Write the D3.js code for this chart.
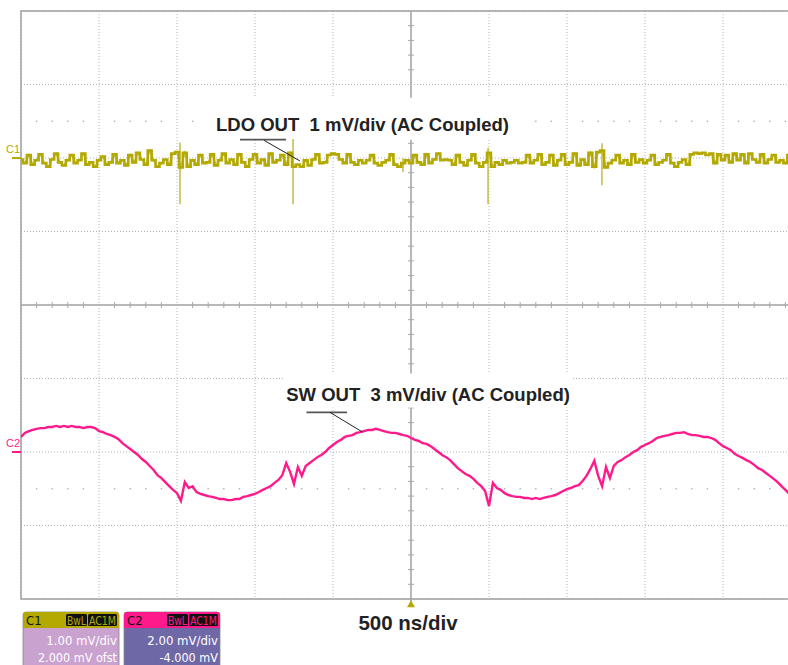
<!DOCTYPE html>
<html>
<head>
<meta charset="utf-8">
<script src="https://cdn.jsdelivr.net/npm/d3@7"></script>
<style>
  body { margin: 0; background: #fff; }
  svg { display: block; }
</style>
</head>
<body>
<div id="scope"></div>
<script>
// sample interval of both captured traces
const sampleNs = 25;

// C1: LDO output ripple, mV (1 mV/div)
const ldoOut = [
  -0.02, -0.07, 0.04, -0.09, -0.03, 0.05, -0.07, -0.12, -0.02, 0.06, -0.06, -0.10, -0.03, 0.04, -0.07, -0.03, 0.06, -0.09, -0.06, -0.12,
  -0.03, 0.02, -0.09, -0.06, 0.05, -0.07, -0.03, -0.10, 0.04, -0.06, 0.07, -0.02, -0.09, 0.10, -0.03, -0.12, -0.07, -0.02, -0.09, 0.06,
  0.08, -0.13, 0.07, -0.12, -0.03, -0.09, 0.04, -0.07, -0.06, 0.05, -0.10, -0.03, 0.06, -0.07, -0.02, -0.09, 0.05, -0.06, -0.12, -0.02,
  0.05, -0.07, -0.02, -0.10, 0.06, -0.06, -0.03, 0.04, -0.09, 0.07, -0.12, -0.09, -0.12, -0.03, -0.10, -0.02, 0.05, -0.07, -0.06, 0.04,
  0.06, 0.05, -0.02, -0.07, 0.05, -0.06, -0.09, -0.03, -0.07, -0.03, 0.04, -0.07, -0.10, -0.06, -0.03, 0.05, -0.09, -0.12, -0.07, -0.03,
  -0.07, 0.04, -0.06, -0.09, 0.05, -0.07, -0.02, 0.06, -0.03, -0.02, -0.03, -0.09, 0.04, -0.06, -0.10, -0.03, 0.05, -0.07, -0.12, -0.06,
  0.07, -0.12, -0.06, -0.09, -0.03, -0.07, -0.06, -0.03, -0.07, -0.06, 0.04, -0.07, -0.03, 0.05, -0.09, -0.06, 0.04, -0.10, -0.03, 0.05,
  -0.09, -0.06, 0.06, -0.10, -0.02, -0.09, 0.07, -0.12, 0.08, 0.10, -0.13, -0.07, -0.03, 0.04, -0.07, -0.03, -0.09, 0.05, -0.06, -0.02,
  -0.07, -0.03, 0.04, -0.09, -0.06, -0.03, 0.05, -0.07, -0.12, -0.06, -0.02, -0.09, 0.05, 0.07, 0.06, 0.07, 0.04, 0.06, -0.07, 0.05,
  -0.03, 0.04, -0.06, 0.06, -0.03, 0.05, -0.07, 0.06, -0.02, -0.06, 0.05, -0.07, -0.02, 0.04, -0.06, -0.03, -0.07, 0.04, -0.06, -0.03
];

// C1 switching glitches (ns, peak high / low in mV)
const ldoSpikeTimes = [1019, 1744, 2449, 2994, 3724];
const ldoSpikeHigh = [0.21, 0.26, 0.00, 0.14, 0.20];
const ldoSpikeLow = [-0.63, -0.63, -0.19, -0.63, -0.37];

// C2: switcher output ripple, mV (2 mV/div)
const swOut = [
  0.41, 0.52, 0.57, 0.60, 0.63, 0.65, 0.65, 0.68, 0.68, 0.71, 0.68, 0.71, 0.68, 0.71, 0.68, 0.68, 0.65, 0.68, 0.68, 0.65,
  0.57, 0.54, 0.49, 0.46, 0.41, 0.35, 0.24, 0.16, 0.08, 0.00, -0.08, -0.19, -0.27, -0.38, -0.49, -0.63, -0.71, -0.82, -0.93, -1.03,
  -1.12, -1.33, -0.82, -0.98, -0.93, -1.09, -1.14, -1.17, -1.20, -1.22, -1.25, -1.28, -1.28, -1.31, -1.31, -1.28, -1.28, -1.22, -1.20, -1.17,
  -1.14, -1.09, -1.03, -0.98, -0.93, -0.84, -0.76, -0.63, -0.30, -0.54, -0.87, -0.41, -0.65, -0.38, -0.30, -0.22, -0.14, -0.08, 0.00, 0.11,
  0.19, 0.27, 0.33, 0.41, 0.44, 0.46, 0.52, 0.54, 0.57, 0.60, 0.60, 0.63, 0.60, 0.57, 0.54, 0.52, 0.52, 0.49, 0.46, 0.44,
  0.38, 0.33, 0.30, 0.24, 0.22, 0.16, 0.08, 0.00, -0.08, -0.14, -0.22, -0.33, -0.44, -0.52, -0.60, -0.65, -0.73, -0.84, -0.93, -1.06,
  -1.47, -0.84, -0.98, -1.03, -1.12, -1.17, -1.20, -1.22, -1.22, -1.25, -1.25, -1.28, -1.25, -1.28, -1.25, -1.22, -1.20, -1.17, -1.12, -1.06,
  -1.01, -0.98, -0.93, -0.90, -0.79, -0.65, -0.46, -0.24, -0.65, -0.93, -0.41, -0.71, -0.38, -0.27, -0.22, -0.14, -0.08, 0.00, 0.05, 0.14,
  0.19, 0.24, 0.30, 0.38, 0.41, 0.44, 0.46, 0.49, 0.52, 0.52, 0.54, 0.49, 0.46, 0.46, 0.44, 0.41, 0.41, 0.38, 0.33, 0.24,
  0.16, 0.11, 0.05, -0.05, -0.11, -0.16, -0.22, -0.27, -0.35, -0.44, -0.49, -0.57, -0.65, -0.73, -0.82, -0.93, -1.03, -1.14, -1.22, -1.31
];

// graticule: 10 x 500 ns horizontally, 8 divisions vertically
const gridTimes = [0, 500, 1000, 1500, 2000, 2500, 3000, 3500, 4000, 4500, 5000];
const gridDivs = [-4, -3, -2, -1, 0, 1, 2, 3, 4];
const dotRowDivs = [2.5, -2.5];

const channelNames = ["C1", "C2"];
const channelColors = ["#b3a900", "#ff1a8c"];
const channelBodies = ["#c9a2cf", "#6f68a7"];
const channelScaleText = ["1.00 mV/div", "2.00 mV/div"];
const channelOffsetText = ["2.000 mV ofst", "-4.000 mV"];

const traceLabels = ["LDO OUT  1 mV/div (AC Coupled)", "SW OUT  3 mV/div (AC Coupled)"];
const timebaseText = "500 ns/div";

const dim = { width: 788, height: 665 };
const plot = { left: 21, top: 11, width: 780, height: 588 };

const svg = d3.select("#scope").append("svg")
    .attr("width", dim.width)
    .attr("height", dim.height)
    .style("font-family", "'Liberation Sans', Arial, sans-serif");

const x = d3.scaleLinear()
    .domain([0, 5000])
    .range([plot.left, plot.left + plot.width]);

const yDiv = d3.scaleLinear()
    .domain([-4, 4])
    .range([plot.top + plot.height, plot.top]);

// C1 marker sits at +2 div, C2 marker at -2 div
const yC1 = d3.scaleLinear().domain([-6, 2]).range(yDiv.range());
const yC2 = d3.scaleLinear().domain([-4, 12]).range(yDiv.range());

svg.append("clipPath").attr("id", "plotClip")
    .append("rect")
    .attr("x", plot.left).attr("y", plot.top)
    .attr("width", plot.width).attr("height", plot.height);

const grid = svg.append("g").attr("class", "grid");

grid.selectAll(".vgrid")
    .data(gridTimes.filter(t => t !== 2500))
    .enter().append("line")
    .attr("class", "vgrid")
    .attr("x1", d => x(d)).attr("x2", d => x(d))
    .attr("y1", plot.top).attr("y2", plot.top + plot.height)
    .attr("stroke", "#b4b4b4")
    .attr("stroke-dasharray", "1,2");

grid.selectAll(".hgrid")
    .data(gridDivs.filter(d => d !== 0))
    .enter().append("line")
    .attr("class", "hgrid")
    .attr("x1", plot.left).attr("x2", plot.left + plot.width)
    .attr("y1", d => yDiv(d)).attr("y2", d => yDiv(d))
    .attr("stroke", "#b4b4b4")
    .attr("stroke-dasharray", "1,2");

// minor positions (5 per division)
const minorTimes = d3.range(0, 5001, 100).filter(t => t % 500 !== 0);
const minorDivs = d3.range(-4, 4.01, 0.2).map(d => +d.toFixed(1)).filter(d => Math.abs(d % 1) > 0.01);

dotRowDivs.forEach(r => {
    grid.selectAll(null)
        .data(minorTimes)
        .enter().append("rect")
        .attr("x", d => x(d) - 0.7)
        .attr("y", yDiv(r) - 0.7)
        .attr("width", 1.4).attr("height", 1.4)
        .attr("fill", "#b0b0b0");
});

// center crosshair with minor ticks
grid.append("line")
    .attr("x1", plot.left).attr("x2", plot.left + plot.width)
    .attr("y1", yDiv(0)).attr("y2", yDiv(0))
    .attr("stroke", "#b8b8b8").attr("stroke-width", 2);
grid.append("line")
    .attr("x1", x(2500)).attr("x2", x(2500))
    .attr("y1", plot.top).attr("y2", plot.top + plot.height + 4)
    .attr("stroke", "#b8b8b8").attr("stroke-width", 2);
grid.selectAll(".hTick")
    .data(minorTimes)
    .enter().append("line")
    .attr("x1", d => x(d)).attr("x2", d => x(d))
    .attr("y1", yDiv(0) - 3).attr("y2", yDiv(0) + 3)
    .attr("stroke", "#a8a8a8");
grid.selectAll(".vTick")
    .data(minorDivs)
    .enter().append("line")
    .attr("x1", x(2500) - 3).attr("x2", x(2500) + 3)
    .attr("y1", d => yDiv(d)).attr("y2", d => yDiv(d))
    .attr("stroke", "#a8a8a8");

// frame
grid.append("path")
    .attr("d", `M${plot.left + plot.width},${plot.top}H${plot.left}V${plot.top + plot.height}H${plot.left + plot.width}`)
    .attr("fill", "none")
    .attr("stroke", "#a0a0a0")
    .attr("stroke-width", 1.5);

// annotation labels with white backing (position in ns / divisions)
const labelAt = [
    { t: 1250, v: 2.37, pad: { x: 22, top: 16, bottom: 5 }, lead: [[1404, 2.25, 1699, 2.25], [1558, 2.24, 1788, 1.96]] },
    { t: 1700, v: -1.3, pad: { x: 3, top: 10, bottom: 3 }, lead: [[1830, -1.46, 2090, -1.46], [1980, -1.46, 2190, -1.73]] }
];

const labelLayer = svg.append("g");
const traceLayer = svg.append("g").attr("clip-path", "url(#plotClip)");
const leaderLayer = svg.append("g");

traceLabels.forEach((txt, i) => {
    const L = labelAt[i];
    const g = labelLayer.append("g");
    const bg = g.append("rect").attr("fill", "#fff");
    const t = g.append("text")
        .attr("x", x(L.t))
        .attr("y", yDiv(L.v))
        .attr("font-size", 18.5)
        .attr("font-weight", "bold")
        .attr("fill", "#222")
        .style("white-space", "pre")
        .text(txt);
    const bb = t.node().getBBox();
    bg.attr("x", bb.x - L.pad.x).attr("y", bb.y - L.pad.top)
        .attr("width", bb.width + 2 * L.pad.x)
        .attr("height", bb.height + L.pad.top + L.pad.bottom);

    leaderLayer.append("line")
        .attr("x1", x(L.lead[0][0])).attr("y1", yDiv(L.lead[0][1]))
        .attr("x2", x(L.lead[0][2])).attr("y2", yDiv(L.lead[0][3]))
        .attr("stroke", "#555").attr("stroke-width", 1.8);
    leaderLayer.append("line")
        .attr("x1", x(L.lead[1][0])).attr("y1", yDiv(L.lead[1][1]))
        .attr("x2", x(L.lead[1][2])).attr("y2", yDiv(L.lead[1][3]))
        .attr("stroke", "#222").attr("stroke-width", 1);
});

// traces
const ldoStep = d3.line()
    .x((d, i) => x(i * sampleNs))
    .y(d => yC1(d))
    .curve(d3.curveStep);

const ldoFuzz = d3.line()
    .x((d, i) => x(i * sampleNs))
    .y(d => yC1(d));

const swLine = d3.line()
    .x((d, i) => x(i * sampleNs))
    .y(d => yC2(d));

traceLayer.selectAll(".spike")
    .data(ldoSpikeTimes)
    .enter().append("line")
    .attr("class", "spike")
    .attr("x1", d => x(d)).attr("x2", d => x(d))
    .attr("y1", (d, i) => yC1(ldoSpikeHigh[i]))
    .attr("y2", (d, i) => yC1(ldoSpikeLow[i]))
    .attr("stroke", "#c9c050")
    .attr("stroke-width", 1.6);

traceLayer.append("path")
    .datum(ldoOut)
    .attr("d", ldoFuzz)
    .attr("fill", "none")
    .attr("stroke", "#c4bc3a")
    .attr("stroke-width", 1.6);

traceLayer.append("path")
    .datum(ldoOut)
    .attr("d", ldoStep)
    .attr("fill", "none")
    .attr("stroke", channelColors[0])
    .attr("stroke-width", 2.6);

traceLayer.append("path")
    .datum(swOut)
    .attr("d", swLine)
    .attr("fill", "none")
    .attr("stroke", channelColors[1])
    .attr("stroke-width", 2.4);

// channel ground markers on the left
[yC1(0), yC2(0)].forEach((yy, i) => {
    svg.append("line")
        .attr("x1", 12).attr("x2", plot.left)
        .attr("y1", yy).attr("y2", yy)
        .attr("stroke", channelColors[i]).attr("stroke-width", 2);
    svg.append("text")
        .attr("x", 20).attr("y", yy - 5)
        .attr("text-anchor", "end")
        .attr("font-size", 11)
        .attr("fill", channelColors[i])
        .text(channelNames[i]);
});

// trigger position marker
svg.append("path")
    .attr("d", d3.symbol(d3.symbolTriangle, 28)())
    .attr("transform", `translate(${x(2500)},${plot.top + plot.height + 6})`)
    .attr("fill", "#b3a900");

svg.append("text")
    .attr("x", x(2500) - 3)
    .attr("y", 630)
    .attr("text-anchor", "middle")
    .attr("font-size", 20.5)
    .attr("font-weight", "bold")
    .attr("fill", "#222")
    .text(timebaseText);

// channel setting panels
const panelX = [23, 124];
const narrow = "'Liberation Sans Narrow', 'Arial Narrow', 'DejaVu Sans Condensed', sans-serif";

channelNames.forEach((name, i) => {
    const g = svg.append("g").attr("transform", `translate(${panelX[i]},612)`);
    g.append("path")
        .attr("d", "M0,60V3Q0,0 3,0H93Q96,0 96,3V60Z")
        .attr("fill", channelBodies[i])
        .attr("stroke", "#888").attr("stroke-width", 0.8);
    g.append("path")
        .attr("d", "M0,16V3Q0,0 3,0H93Q96,0 96,3V16Z")
        .attr("fill", channelColors[i]);
    g.append("text")
        .attr("x", 3).attr("y", 13)
        .attr("font-family", narrow)
        .attr("font-size", 13)
        .attr("fill", "#111")
        .text(name);
    [["BwL", 43, 21], ["AC1M", 65, 29]].forEach(([tag, tx, tw]) => {
        g.append("rect")
            .attr("x", tx).attr("y", 2).attr("width", tw).attr("height", 12)
            .attr("rx", 1.5)
            .attr("fill", "#111");
        g.append("text")
            .attr("x", tx + tw / 2).attr("y", 12.5)
            .attr("text-anchor", "middle")
            .attr("font-family", narrow)
            .attr("font-size", 12)
            .attr("textLength", tw - 2)
            .attr("lengthAdjust", "spacingAndGlyphs")
            .attr("fill", channelColors[i])
            .text(tag);
    });
    g.append("text")
        .attr("x", 94).attr("y", 33)
        .attr("text-anchor", "end")
        .attr("font-family", narrow)
        .attr("font-size", 13)
        .attr("fill", "#fff")
        .text(channelScaleText[i]);
    g.append("text")
        .attr("x", 94).attr("y", 50)
        .attr("text-anchor", "end")
        .attr("font-family", narrow)
        .attr("font-size", 12.5)
        .attr("fill", "#fff")
        .text(channelOffsetText[i]);
});
</script>
</body>
</html>
